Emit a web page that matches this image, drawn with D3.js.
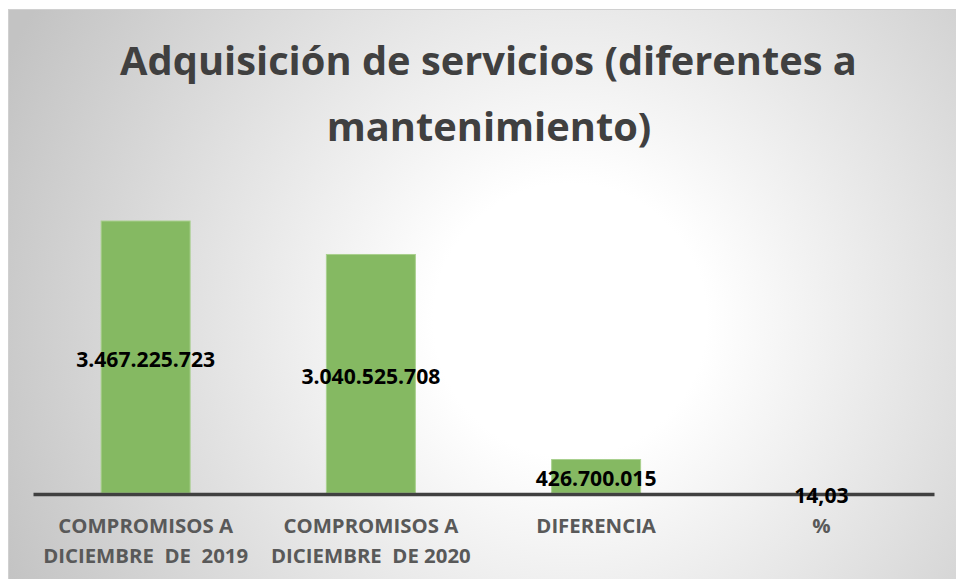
<!DOCTYPE html>
<html><head><meta charset="utf-8">
<script src="https://cdn.jsdelivr.net/npm/d3@7"></script>
<style>html,body{margin:0;padding:0;background:#fff;overflow:hidden}</style>
</head><body>
<script>
const titleLines = ["Adquisición de servicios (diferentes a", "mantenimiento)"];
const categories = ["c2019", "c2020", "dif", "pct"];
const categoryLabels = [["COMPROMISOS A", "DICIEMBRE  DE  2019"], ["COMPROMISOS A", "DICIEMBRE  DE 2020"], ["DIFERENCIA"], ["%"]];
const values = [3467225723, 3040525708, 426700015, 14.03];
const valueLabels = ["3.467.225.723", "3.040.525.708", "426.700.015", "14,03"];

const W = 956, H = 579;
const svg = d3.select("body").append("svg").attr("width", W).attr("height", H);
const defs = svg.append("defs");
const grad = defs.append("radialGradient").attr("id", "bg")
  .attr("gradientUnits", "userSpaceOnUse").attr("cx", 570).attr("cy", 320).attr("r", 620);
grad.append("stop").attr("offset", 0).attr("stop-color", "#ffffff");
grad.append("stop").attr("offset", 0.22).attr("stop-color", "#ffffff");
grad.append("stop").attr("offset", 1).attr("stop-color", "#c3c3c3");

svg.append("rect").attr("x", 8.5).attr("y", 9.5).attr("width", W + 20).attr("height", H + 20)
  .attr("fill", "url(#bg)").attr("stroke", "#d0d0d0").attr("stroke-width", 1);

const font = "'Open Sans', sans-serif";

function fitSize(sel, target) {
  const w = sel.node().getComputedTextLength();
  const fs = parseFloat(sel.attr("font-size"));
  return fs * target / w;
}

// Title
const t1 = svg.append("text").attr("x", 488.5).attr("y", 75).attr("text-anchor", "middle")
  .attr("font-family", font).attr("font-weight", 700).attr("font-size", 40).attr("fill", "#404040")
  .text(titleLines[0]);
const titleSize = fitSize(t1, 737);
t1.attr("font-size", titleSize);
svg.append("text").attr("x", 489).attr("y", 141).attr("text-anchor", "middle")
  .attr("font-family", font).attr("font-weight", 700).attr("font-size", titleSize).attr("fill", "#404040")
  .text(titleLines[1]);

const x = d3.scaleBand().domain(categories).range([33, 934]).paddingInner(0.605).paddingOuter(0.3025);
const y = d3.scaleLinear().domain([0, values[0]]).range([493, 221]);

const g = svg.append("g");
g.selectAll("rect.bar").data(values).join("rect").attr("class", "bar")
  .attr("x", (d, i) => x(categories[i]))
  .attr("y", d => y(d))
  .attr("width", x.bandwidth())
  .attr("height", d => y(0) - y(d))
  .attr("fill", "#85b962")
  .attr("stroke", d => (y(0) - y(d)) > 2 ? "#a9d08e" : "none").attr("stroke-width", 1);

// Axis line
const axis = svg.append("g").attr("transform", "translate(0,494)")
  .call(d3.axisBottom(x).tickSize(0).tickFormat(""));
axis.select(".domain").attr("stroke", "#404040").attr("stroke-width", 3.5);

// Category labels
const probe = svg.append("text").attr("font-family", font).attr("font-weight", 700).attr("font-size", 18).text("COMPROMISOS A");
const catSize = fitSize(probe, 175);
probe.remove();
categoryLabels.forEach((lines, i) => {
  const cx = x(categories[i]) + x.bandwidth() / 2;
  lines.forEach((ln, j) => {
    svg.append("text").attr("x", cx).attr("y", 533 + j * 30).attr("text-anchor", "middle")
      .attr("font-family", font).attr("font-weight", 700).attr("font-size", catSize).attr("fill", "#595959")
      .attr("xml:space", "preserve").style("white-space", "pre").text(ln);
  });
});

// Value labels
const probe2 = svg.append("text").attr("font-family", font).attr("font-weight", 700).attr("font-size", 18).text(valueLabels[0]);
const valSize = fitSize(probe2, 139);
probe2.remove();
values.forEach((v, i) => {
  const cx = x(categories[i]) + x.bandwidth() / 2;
  const mid = (y(v) + y(0)) / 2;
  svg.append("text").attr("x", cx).attr("y", mid + 10).attr("text-anchor", "middle")
    .attr("font-family", font).attr("font-weight", 700).attr("font-size", valSize).attr("fill", "#000")
    .text(valueLabels[i]);
});
</script>
</body></html>
